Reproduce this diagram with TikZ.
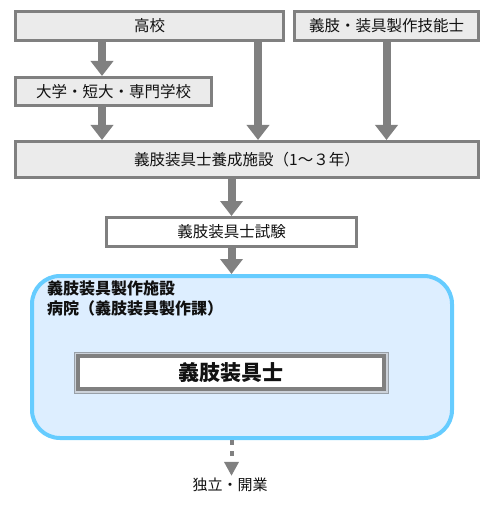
\documentclass[tikz,border=0pt]{standalone}
\usepackage{fontspec}
\setmainfont{Noto Sans CJK JP}
\usetikzlibrary{arrows.meta}

\definecolor{boxgray}{HTML}{808080}
\definecolor{boxfill}{HTML}{EBEBEB}
\definecolor{bluefill}{HTML}{DDEEFF}
\definecolor{blueline}{HTML}{66CCFF}
\definecolor{framegray}{HTML}{98A0A8}
\definecolor{framefill}{HTML}{CCD2DA}
\definecolor{inktext}{HTML}{111111}

\tikzset{
    course/.style={draw=boxgray, fill=boxfill, line width=3pt, inner sep=0pt,
        text=inktext, font=\fontsize{15.5}{17}\selectfont},
    exam/.style={course, fill=white},
    flow/.style={draw=boxgray, line width=8pt, -{Triangle[width=22pt,length=15pt]}},
    dotflow/.style={draw=boxgray, line width=4pt, dash pattern=on 5pt off 6pt,
        -{Triangle[width=14pt,length=14pt]}},
    facility/.style={draw=blueline, fill=bluefill, line width=4pt, rounded corners=28pt},
}

\begin{document}
\begin{tikzpicture}[x=1pt, y=-1pt]
    \useasboundingbox (0,0) rectangle (495,513);

    % schools and qualifications
    \node[course, minimum width=268pt, minimum height=29pt] (kou) at (149.5,26) {高校};
    \node[course, minimum width=184pt, minimum height=29pt] (gino) at (386.5,26) {義肢・装具製作技能士};
    \node[course, minimum width=196pt, minimum height=28pt] (daigaku) at (113.5,91.5) {大学・短大・専門学校};
    \node[course, minimum width=463pt, minimum height=36pt] (yousei) at (247,159.5) {義肢装具士養成施設（1～３年）};
    \node[exam, minimum width=250pt, minimum height=29pt] (shiken) at (231.5,232) {義肢装具士試験};

    % workplace
    \node[facility, minimum width=420pt, minimum height=162pt] (shisetsu) at (242,357) {};
    \node[anchor=west, inner sep=0pt, text=inktext, font=\fontsize{16}{18}\selectfont\bfseries] (lab1) at (47,288) {義肢装具製作施設};
    \node[anchor=west, inner sep=0pt, text=inktext, font=\fontsize{16}{18}\selectfont\bfseries] (lab2) at (47,308) {病院（義肢装具製作課）};
    \draw[draw=framegray, fill=framefill, line width=1pt] (74,352) rectangle (388,393);
    \node[draw=boxgray, fill=white, line width=3.5pt, minimum width=306pt, minimum height=33pt,
        text=inktext, font=\fontsize{21}{24}\selectfont\bfseries] (shi) at (231,372.5) {義肢装具士};

    \node[text=inktext, font=\fontsize{15}{17}\selectfont, inner sep=2pt] (dokuritsu) at (230,485) {独立・開業};

    % arrows
    \coordinate (left) at (102,0);
    \coordinate (mid) at (258,0);
    \draw[flow] (kou.south -| left) -- (daigaku.north -| left);
    \draw[flow] (daigaku.south -| left) -- (yousei.north -| left);
    \draw[flow] (kou.south -| mid) -- (yousei.north -| mid);
    \draw[flow] (gino.south) -- (gino.south |- yousei.north);
    \draw[flow] (yousei.south -| shiken) -- (shiken.north);
    \draw[flow] (shiken.south) -- (shiken.south |- shisetsu.north);
    \draw[dotflow] (shisetsu.south -| shiken) -- (dokuritsu.north -| shiken);
\end{tikzpicture}
\end{document}
